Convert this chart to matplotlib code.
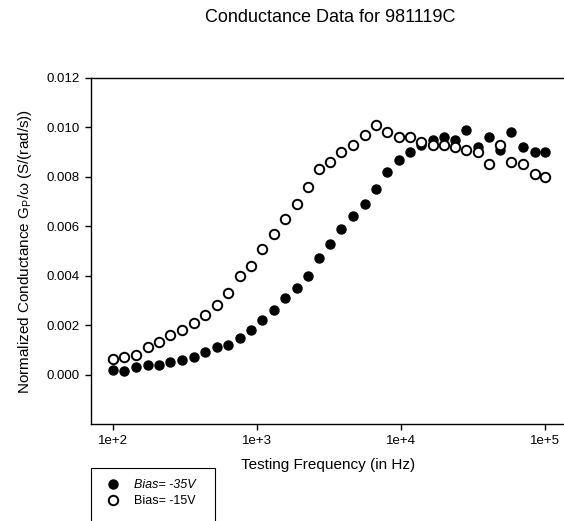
"""Conductance data for sample 981119C at two bias voltages."""

import math

import matplotlib

matplotlib.use("Agg")
import matplotlib.pyplot as plt
from matplotlib.patches import Rectangle
from matplotlib.ticker import FixedLocator, FuncFormatter, NullLocator

plt.rcParams["font.family"] = ["Liberation Sans", "DejaVu Sans"]

# %% Data
freq_hz = [
    100, 119, 144, 175, 209, 249, 301, 365, 435, 528,
    629, 762, 908, 1083, 1312, 1565, 1895, 2260, 2696, 3214,
    3831, 4642, 5623, 6702, 7990, 9683, 11548, 13770, 16680, 19900,
    23710, 28260, 34270, 40840, 48700, 58050, 70330, 85260, 100000,
]
bias_35v = [
    0.00018, 0.00015, 0.0003, 0.0004, 0.0004, 0.0005, 0.0006, 0.0007, 0.0009, 0.0011,
    0.0012, 0.0015, 0.0018, 0.0022, 0.0026, 0.0031, 0.0035, 0.0040, 0.0047, 0.0053,
    0.0059, 0.0064, 0.0069, 0.0075, 0.0082, 0.0087, 0.0090, 0.0093, 0.0095, 0.0096,
    0.0095, 0.0099, 0.0092, 0.0096, 0.0091, 0.0098, 0.0092, 0.0090, 0.0090,
]
bias_15v = [
    0.00065, 0.0007, 0.0008, 0.0011, 0.0013, 0.0016, 0.0018, 0.0021, 0.0024, 0.0028,
    0.0033, 0.0040, 0.0044, 0.0051, 0.0057, 0.0063, 0.0069, 0.0076, 0.0083, 0.0086,
    0.0090, 0.0093, 0.0097, 0.0101, 0.0098, 0.0096, 0.0096, 0.0094, 0.0093, 0.0093,
    0.0092, 0.0091, 0.0090, 0.0085, 0.0093, 0.0086, 0.0085, 0.0081, 0.0080,
]
x_ticks = [1e2, 1e3, 1e4, 1e5]
y_ticks = [0.000, 0.002, 0.004, 0.006, 0.008, 0.010, 0.012]

# %% Figure
W, H = 564, 521
fig = plt.figure(figsize=(W / 100, H / 100), dpi=100)
# right edge sits just past the canvas, as in the cropped scan
ax = fig.add_axes([91 / W, 1 - 424 / H, 475 / W, (424 - 78) / H])

ax.plot(freq_hz, bias_35v, "o", color="black", markersize=6.5,
        markeredgewidth=1.0, linestyle="none", label="Bias= -35V")
ax.plot(freq_hz, bias_15v, "o", markerfacecolor="white", markeredgecolor="black",
        markersize=6.8, markeredgewidth=1.4, linestyle="none", label="Bias= -15V")

ax.set_xscale("log")
ax.set_xlim(70, 140000)
ax.set_ylim(-0.002, 0.012)

ax.xaxis.set_major_locator(FixedLocator(x_ticks))
ax.xaxis.set_minor_locator(NullLocator())
ax.xaxis.set_major_formatter(FuncFormatter(lambda v, _: f"1e+{round(math.log10(v))}"))
ax.yaxis.set_major_locator(FixedLocator(y_ticks))
ax.yaxis.set_major_formatter(FuncFormatter(lambda v, _: f"{v:.3f}"))
ax.tick_params(direction="out", length=4, width=1, labelsize=9.5, pad=4)

ax.spines["right"].set_visible(False)
for side in ("left", "top", "bottom"):
    ax.spines[side].set_linewidth(1.0)

ax.set_xlabel("Testing Frequency (in Hz)", fontsize=11, labelpad=8)
ax.set_ylabel(r"Normalized Conductance G$_\mathregular{P}$/ω (S/(rad/s))",
              fontsize=11, labelpad=9)

fig.text(330 / W, 1 - 18 / H, "Conductance Data for 981119C",
         ha="center", va="center", fontsize=13)

# %% Legend (box runs off the bottom of the canvas)
fig.patches.append(Rectangle((91 / W, 1 - 530 / H), 124 / W, 62 / H,
                             transform=fig.transFigure, fill=False,
                             edgecolor="black", linewidth=0.8))
handles, labels = ax.get_legend_handles_labels()
leg = fig.legend(handles, labels, loc="upper left",
                 bbox_to_anchor=(100 / W, 1 - 473 / H), frameon=False,
                 fontsize=9, handletextpad=1.2, labelspacing=0.3,
                 handlelength=1.0, borderpad=0)
leg.get_texts()[0].set_fontstyle("italic")

fig.savefig("out.png", dpi=100)
